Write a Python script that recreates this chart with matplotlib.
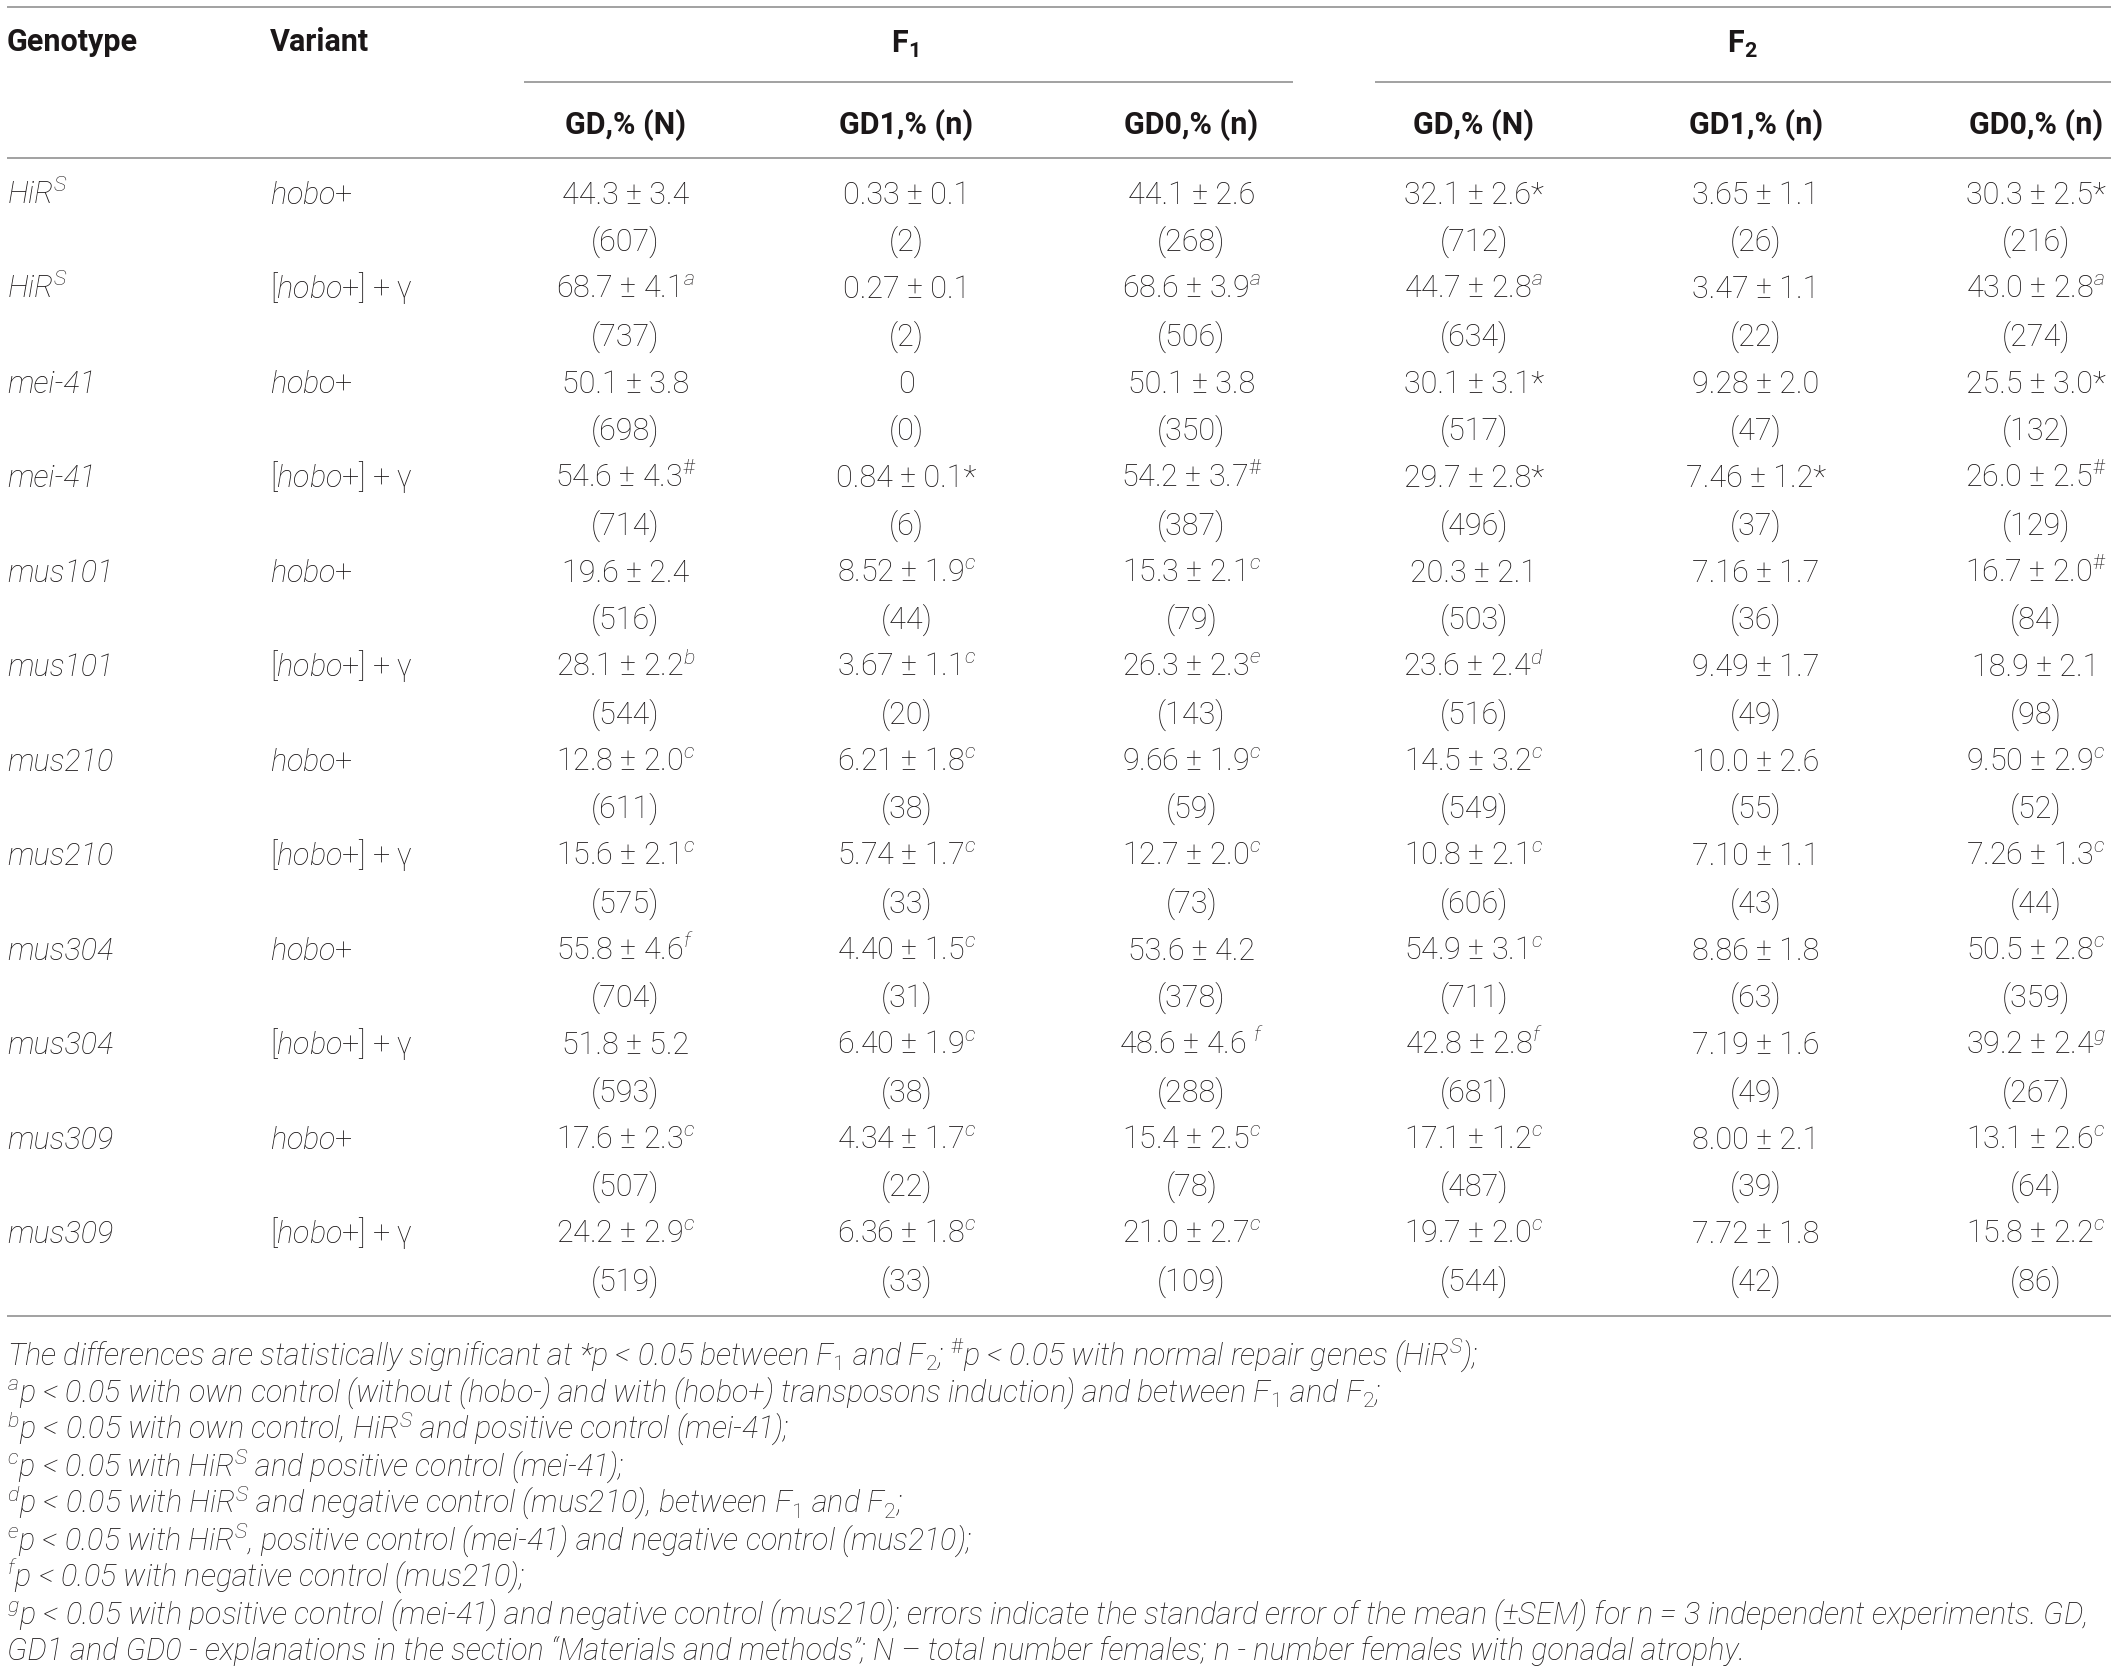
import matplotlib
matplotlib.use("Agg")
import matplotlib.pyplot as plt

FONT = "Roboto"
plt.rcParams["font.family"] = [FONT, "DejaVu Sans"]
plt.rcParams["font.weight"] = "light"
plt.rcParams["mathtext.fontset"] = "custom"
plt.rcParams["mathtext.rm"] = FONT + ":light"
plt.rcParams["mathtext.it"] = FONT + ":italic:light"
plt.rcParams["mathtext.bf"] = FONT + ":bold"
plt.rcParams["mathtext.default"] = "it"

# ---------------- data ----------------
genotypes = ["HiR$^{S}$", "HiR$^{S}$", "mei-41", "mei-41", "mus101", "mus101",
             "mus210", "mus210", "mus304", "mus304", "mus309", "mus309"]
variants = ["hobo+", "[hobo+] + γ"] * 6

col_headers = ["GD,% (N)", "GD1,% (n)", "GD0,% (n)", "GD,% (N)", "GD1,% (n)", "GD0,% (n)"]
group_headers = [r"$\mathbf{F}_{\mathbf{1}}$", r"$\mathbf{F}_{\mathbf{2}}$"]

f1_gd = ["44.3 ± 3.4", "68.7 ± 4.1$^{a}$", "50.1 ± 3.8", "54.6 ± 4.3$^{\\#}$",
         "19.6 ± 2.4", "28.1 ± 2.2$^{b}$", "12.8 ± 2.0$^{c}$", "15.6 ± 2.1$^{c}$",
         "55.8 ± 4.6$^{f}$", "51.8 ± 5.2", "17.6 ± 2.3$^{c}$", "24.2 ± 2.9$^{c}$"]
f1_gd_N = [607, 737, 698, 714, 516, 544, 611, 575, 704, 593, 507, 519]
f1_gd1 = ["0.33 ± 0.1", "0.27 ± 0.1", "0", "0.84 ± 0.1*",
          "8.52 ± 1.9$^{c}$", "3.67 ± 1.1$^{c}$", "6.21 ± 1.8$^{c}$", "5.74 ± 1.7$^{c}$",
          "4.40 ± 1.5$^{c}$", "6.40 ± 1.9$^{c}$", "4.34 ± 1.7$^{c}$", "6.36 ± 1.8$^{c}$"]
f1_gd1_n = [2, 2, 0, 6, 44, 20, 38, 33, 31, 38, 22, 33]
f1_gd0 = ["44.1 ± 2.6", "68.6 ± 3.9$^{a}$", "50.1 ± 3.8", "54.2 ± 3.7$^{\\#}$",
          "15.3 ± 2.1$^{c}$", "26.3 ± 2.3$^{e}$", "9.66 ± 1.9$^{c}$", "12.7 ± 2.0$^{c}$",
          "53.6 ± 4.2", "48.6 ± 4.6 $^{f}$", "15.4 ± 2.5$^{c}$", "21.0 ± 2.7$^{c}$"]
f1_gd0_n = [268, 506, 350, 387, 79, 143, 59, 73, 378, 288, 78, 109]
f2_gd = ["32.1 ± 2.6*", "44.7 ± 2.8$^{a}$", "30.1 ± 3.1*", "29.7 ± 2.8*",
         "20.3 ± 2.1", "23.6 ± 2.4$^{d}$", "14.5 ± 3.2$^{c}$", "10.8 ± 2.1$^{c}$",
         "54.9 ± 3.1$^{c}$", "42.8 ± 2.8$^{f}$", "17.1 ± 1.2$^{c}$", "19.7 ± 2.0$^{c}$"]
f2_gd_N = [712, 634, 517, 496, 503, 516, 549, 606, 711, 681, 487, 544]
f2_gd1 = ["3.65 ± 1.1", "3.47 ± 1.1", "9.28 ± 2.0", "7.46 ± 1.2*",
          "7.16 ± 1.7", "9.49 ± 1.7", "10.0 ± 2.6", "7.10 ± 1.1",
          "8.86 ± 1.8", "7.19 ± 1.6", "8.00 ± 2.1", "7.72 ± 1.8"]
f2_gd1_n = [26, 22, 47, 37, 36, 49, 55, 43, 63, 49, 39, 42]
f2_gd0 = ["30.3 ± 2.5*", "43.0 ± 2.8$^{a}$", "25.5 ± 3.0*", "26.0 ± 2.5$^{\\#}$",
          "16.7 ± 2.0$^{\\#}$", "18.9 ± 2.1", "9.50 ± 2.9$^{c}$", "7.26 ± 1.3$^{c}$",
          "50.5 ± 2.8$^{c}$", "39.2 ± 2.4$^{g}$", "13.1 ± 2.6$^{c}$", "15.8 ± 2.2$^{c}$"]
f2_gd0_n = [216, 274, 132, 129, 84, 98, 52, 44, 359, 267, 64, 86]

footnotes = [
    "The differences are statistically significant at *p < 0.05 between F$_{1}$ and F$_{2}$; "
    "$^{\\#}$p < 0.05 with normal repair genes (HiR$^{S}$);",
    "$^{a}$p < 0.05 with own control (without (hobo-) and with (hobo+) transposons induction) "
    "and between F$_{1}$ and F$_{2}$;",
    "$^{b}$p < 0.05 with own control, HiR$^{S}$ and positive control (mei-41);",
    "$^{c}$p < 0.05 with HiR$^{S}$ and positive control (mei-41);",
    "$^{d}$p < 0.05 with HiR$^{S}$ and negative control (mus210), between F$_{1}$ and F$_{2}$;",
    "$^{e}$p < 0.05 with HiR$^{S}$, positive control (mei-41) and negative control (mus210);",
    "$^{f}$p < 0.05 with negative control (mus210);",
    "$^{g}$p < 0.05 with positive control (mei-41) and negative control (mus210); errors indicate "
    "the standard error of the mean (±SEM) for n = 3 independent experiments. GD,",
    "GD1 and GD0 - explanations in the section “Materials and methods”; N – total number females; "
    "n - number females with gonadal atrophy.",
]

columns = [(f1_gd, f1_gd_N), (f1_gd1, f1_gd1_n), (f1_gd0, f1_gd0_n),
           (f2_gd, f2_gd_N), (f2_gd1, f2_gd1_n), (f2_gd0, f2_gd0_n)]

# ---------------- layout ----------------
W, H = 1568, 1238
fig = plt.figure(figsize=(21.18, 16.71), dpi=100)
ax = fig.add_axes([0, 0, 1, 1])
ax.set_xlim(0, W)
ax.set_ylim(H, 0)
ax.axis("off")

TC = "#1b1718"
LC = "#9a9a9a"
FS = 22
FS_NOTE = 22
LW = 1.3

col_x = [463, 671, 882, 1091, 1300, 1507]
group_x = [670, 1290]
x_gen, x_var = 5, 200

# rules
for y in (5, 117, 975):
    ax.plot([5, 1563], [y, y], color=LC, lw=LW, solid_capstyle="butt")
ax.plot([388, 957], [61, 61], color=LC, lw=LW, solid_capstyle="butt")
ax.plot([1018, 1563], [61, 61], color=LC, lw=LW, solid_capstyle="butt")

# headers
ax.text(x_gen, 38, "Genotype", fontsize=FS, fontweight="bold", color=TC, ha="left", va="baseline")
ax.text(x_var, 38, "Variant", fontsize=FS, fontweight="bold", color=TC, ha="left", va="baseline")
for gx, g in zip(group_x, group_headers):
    ax.text(gx, 39, g, fontsize=FS, color=TC, ha="center", va="baseline")
for cx, h in zip(col_x, col_headers):
    ax.text(cx, 99, h, fontsize=FS, fontweight="bold", color=TC, ha="center", va="baseline")


def variant_label(v):
    return v.replace("hobo", "$hobo$")


for i in range(len(genotypes)):
    yv = 151 + 70 * i
    yn = 186 + 70 * i
    ax.text(x_gen, yv, genotypes[i], fontsize=FS, style="italic", color=TC,
            ha="left", va="baseline")
    ax.text(x_var, yv, variant_label(variants[i]), fontsize=FS, color=TC,
            ha="left", va="baseline")
    for cx, (vals, ns) in zip(col_x, columns):
        ax.text(cx, yv, vals[i], fontsize=FS, color=TC, ha="center", va="baseline")
        ax.text(cx, yn, f"({ns[i]})", fontsize=FS, color=TC, ha="center", va="baseline")

for k, line in enumerate(footnotes):
    ax.text(5, 1011 + 27.4 * k, line, fontsize=FS_NOTE, style="italic", color=TC,
            ha="left", va="baseline")

fig.savefig("out.png", dpi=100)
